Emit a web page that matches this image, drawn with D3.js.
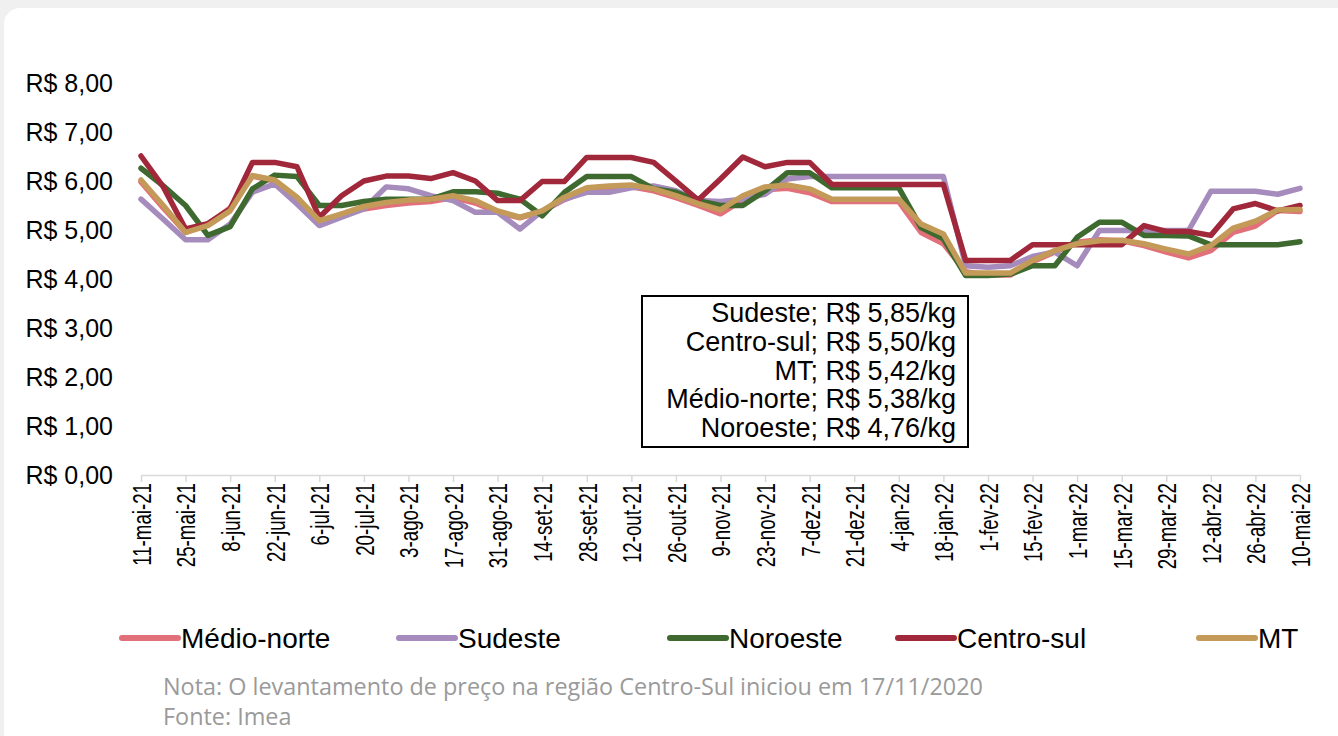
<!DOCTYPE html>
<html>
<head>
<meta charset="utf-8">
<script src="https://cdn.jsdelivr.net/npm/d3@7"></script>
<style>
  body { margin: 0; background: #f0f0f0; }
  svg { display: block; }
</style>
</head>
<body>
<div id="chart"></div>
<script>
// weekly dates (categories)
const weeks = [
  "11-mai-21", "18-mai-21", "25-mai-21", "1-jun-21", "8-jun-21", "15-jun-21", "22-jun-21", "29-jun-21",
  "6-jul-21", "13-jul-21", "20-jul-21", "27-jul-21", "3-ago-21", "10-ago-21", "17-ago-21", "24-ago-21",
  "31-ago-21", "7-set-21", "14-set-21", "21-set-21", "28-set-21", "5-out-21", "12-out-21", "19-out-21",
  "26-out-21", "2-nov-21", "9-nov-21", "16-nov-21", "23-nov-21", "30-nov-21", "7-dez-21", "14-dez-21",
  "21-dez-21", "28-dez-21", "4-jan-22", "11-jan-22", "18-jan-22", "25-jan-22", "1-fev-22", "8-fev-22",
  "15-fev-22", "22-fev-22", "1-mar-22", "8-mar-22", "15-mar-22", "22-mar-22", "29-mar-22", "5-abr-22",
  "12-abr-22", "19-abr-22", "26-abr-22", "3-mai-22", "10-mai-22"
];

// tick labels shown on the axis (every other week)
const tickLabels = [
  "11-mai-21", "25-mai-21", "8-jun-21", "22-jun-21", "6-jul-21", "20-jul-21", "3-ago-21", "17-ago-21",
  "31-ago-21", "14-set-21", "28-set-21", "12-out-21", "26-out-21", "9-nov-21", "23-nov-21", "7-dez-21",
  "21-dez-21", "4-jan-22", "18-jan-22", "1-fev-22", "15-fev-22", "1-mar-22", "15-mar-22", "29-mar-22",
  "12-abr-22", "26-abr-22", "10-mai-22"
];

const yTicks = [0, 1, 2, 3, 4, 5, 6, 7, 8];

const medioNorte = [
  5.98, 5.45, 4.95, 5.12, 5.45, 6.10, 6.00, 5.62, 5.15, 5.30, 5.43, 5.50, 5.55, 5.58, 5.66, 5.55,
  5.36, 5.25, 5.38, 5.62, 5.80, 5.84, 5.88, 5.80, 5.66, 5.50, 5.33, 5.62, 5.82, 5.85, 5.76, 5.58,
  5.58, 5.58, 5.58, 4.95, 4.72, 4.15, 4.08, 4.08, 4.35, 4.55, 4.75, 4.80, 4.78, 4.68, 4.55, 4.43,
  4.58, 4.95, 5.08, 5.40, 5.38
];
const sudeste = [
  5.63, 5.22, 4.80, 4.80, 5.12, 5.77, 5.94, 5.53, 5.09, 5.26, 5.43, 5.88, 5.84, 5.70, 5.60, 5.36,
  5.36, 5.02, 5.39, 5.63, 5.77, 5.77, 5.86, 5.90, 5.80, 5.60, 5.58, 5.63, 5.73, 6.04, 6.09, 6.09,
  6.09, 6.09, 6.09, 6.09, 6.09, 4.27, 4.24, 4.27, 4.46, 4.55, 4.27, 4.99, 4.99, 4.99, 4.99, 4.99,
  5.79, 5.79, 5.79, 5.73, 5.85
];
const noroeste = [
  6.26, 5.90, 5.50, 4.89, 5.07, 5.84, 6.12, 6.09, 5.50, 5.50, 5.58, 5.63, 5.63, 5.63, 5.78, 5.78,
  5.75, 5.63, 5.29, 5.77, 6.09, 6.09, 6.09, 5.84, 5.77, 5.60, 5.50, 5.50, 5.80, 6.17, 6.17, 5.86,
  5.86, 5.86, 5.86, 5.05, 4.82, 4.07, 4.07, 4.10, 4.27, 4.27, 4.85, 5.16, 5.16, 4.89, 4.89, 4.88,
  4.70, 4.70, 4.70, 4.70, 4.76
];
const centroSul = [
  6.51, 5.88, 5.02, 5.13, 5.43, 6.38, 6.38, 6.29, 5.26, 5.70, 6.00, 6.10, 6.10, 6.05, 6.17, 6.00,
  5.60, 5.60, 5.99, 5.99, 6.48, 6.48, 6.48, 6.38, 6.00, 5.61, 6.04, 6.49, 6.29, 6.38, 6.38, 5.93,
  5.93, 5.93, 5.93, 5.93, 5.93, 4.38, 4.38, 4.38, 4.70, 4.70, 4.70, 4.70, 4.70, 5.09, 4.97, 4.97,
  4.89, 5.43, 5.54, 5.39, 5.50
];
const mt = [
  6.02, 5.50, 4.95, 5.09, 5.39, 6.11, 6.02, 5.67, 5.19, 5.33, 5.48, 5.56, 5.61, 5.63, 5.70, 5.60,
  5.39, 5.26, 5.39, 5.67, 5.86, 5.90, 5.92, 5.84, 5.70, 5.54, 5.41, 5.70, 5.88, 5.92, 5.84, 5.63,
  5.63, 5.63, 5.63, 5.12, 4.92, 4.12, 4.12, 4.12, 4.38, 4.58, 4.72, 4.78, 4.79, 4.72, 4.61, 4.51,
  4.68, 5.04, 5.18, 5.41, 5.42
];

const seriesNames = ["Médio-norte", "Sudeste", "Noroeste", "Centro-sul", "MT"];
const seriesValues = [medioNorte, sudeste, noroeste, centroSul, mt];
const colors = ["#E2707A", "#A68BBD", "#3E6A30", "#A1283A", "#C49A58"];

const notes = [
  "Nota: O levantamento de preço na região Centro-Sul iniciou em 17/11/2020",
  "Fonte: Imea"
];

const W = 1338, H = 736;
const margin = { top: 83, right: 38, bottom: 261, left: 141 };

const svg = d3.select("#chart")
  .append("svg")
  .attr("width", W)
  .attr("height", H);

// white card
svg.append("rect")
  .attr("x", 4).attr("y", 8)
  .attr("width", W + 20).attr("height", H + 20)
  .attr("rx", 16)
  .attr("fill", "#fff");

const xScale = d3.scalePoint()
  .domain(weeks)
  .range([margin.left, W - margin.right]);

const yScale = d3.scaleLinear()
  .domain([0, 8])
  .range([H - margin.bottom, margin.top]);

const fmt = v => "R$ " + d3.format(".2f")(v).replace(".", ",");

// Y axis labels (no axis line)
svg.append("g")
  .selectAll("text")
  .data(yTicks)
  .enter()
  .append("text")
  .attr("x", 113)
  .attr("y", d => yScale(d))
  .attr("dy", "0.35em")
  .attr("text-anchor", "end")
  .style("font-family", "'Liberation Sans', Arial, sans-serif")
  .style("font-size", "25px")
  .attr("fill", "#000")
  .text(d => fmt(d));

// X axis
const squeeze = 0.72; // narrow the dates, like the original face
const xAxis = svg.append("g")
  .attr("transform", `translate(0, ${yScale(0)})`)
  .call(
    d3.axisBottom(xScale)
      .tickValues(tickLabels)
      .tickSize(7)
      .tickSizeOuter(0)
      .tickPadding(9)
  );
xAxis.select(".domain").attr("stroke", "#d9d9d9").attr("stroke-width", 1.5);
xAxis.selectAll(".tick line").attr("stroke", "#d9d9d9").attr("stroke-width", 1.5);
xAxis.selectAll(".tick text")
  .attr("transform", `rotate(-90) scale(${squeeze}, 1)`)
  .attr("text-anchor", "end")
  .attr("x", -8 / squeeze)
  .attr("y", 0)
  .attr("dy", "0.36em")
  .style("font-family", "'Liberation Sans', Arial, sans-serif")
  .style("font-size", "26px")
  .attr("fill", "#000");

// lines
const line = d3.line()
  .x((d, i) => xScale(weeks[i]))
  .y(d => yScale(d));

svg.append("g")
  .selectAll("path")
  .data(seriesValues)
  .enter()
  .append("path")
  .attr("d", d => line(d))
  .attr("fill", "none")
  .attr("stroke", (d, i) => colors[i])
  .attr("stroke-width", 5.5)
  .attr("stroke-linejoin", "round")
  .attr("stroke-linecap", "round");

// annotation box with latest prices
const latest = seriesNames
  .map((name, i) => ({ name, value: seriesValues[i][seriesValues[i].length - 1] }))
  .sort((a, b) => b.value - a.value);

const box = svg.append("g");
box.append("rect")
  .attr("x", 642).attr("y", 296)
  .attr("width", 326).attr("height", 151)
  .attr("fill", "#fff")
  .attr("stroke", "#000")
  .attr("stroke-width", 2);
box.selectAll("text")
  .data(latest)
  .enter()
  .append("text")
  .attr("x", 956)
  .attr("y", (d, i) => 322 + i * 28.8)
  .attr("text-anchor", "end")
  .style("font-family", "'Liberation Sans', Arial, sans-serif")
  .style("font-size", "27px")
  .attr("fill", "#000")
  .text(d => `${d.name}; ${fmt(d.value)}/kg`);

// legend
const legendX = [120, 397, 668, 896, 1197];
const legend = svg.append("g")
  .selectAll("g")
  .data(seriesNames)
  .enter()
  .append("g")
  .attr("transform", (d, i) => `translate(${legendX[i]}, 638)`);
legend.append("line")
  .attr("x1", 2).attr("x2", 58)
  .attr("stroke", (d, i) => colors[i])
  .attr("stroke-width", 6)
  .attr("stroke-linecap", "round");
legend.append("text")
  .attr("x", 61)
  .attr("dy", "0.35em")
  .style("font-family", "'Liberation Sans', Arial, sans-serif")
  .style("font-size", "28px")
  .attr("fill", "#000")
  .text(d => d);

// footnotes
svg.append("g")
  .selectAll("text")
  .data(notes)
  .enter()
  .append("text")
  .attr("x", 163)
  .attr("y", (d, i) => 695 + i * 30)
  .style("font-family", "'Open Sans', sans-serif")
  .style("font-size", "23.4px")
  .attr("fill", "#9a9a9a")
  .text(d => d);
</script>
</body>
</html>
